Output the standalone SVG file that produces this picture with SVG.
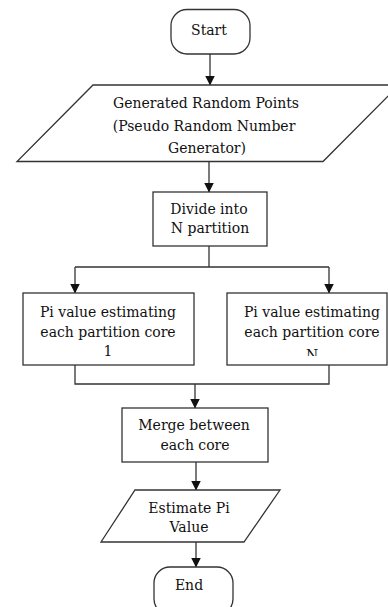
<svg xmlns="http://www.w3.org/2000/svg" width="388" height="607" viewBox="0 0 388 607">
<style>
.shape{fill:#fff;stroke:#333;stroke-width:1.3}
.line{fill:none;stroke:#333;stroke-width:1.3}
text{font-family:"DejaVu Serif","Liberation Serif",serif;font-size:14px;fill:#111;text-anchor:middle;dominant-baseline:central}
</style>
<defs>
<marker id="ah" markerWidth="10" markerHeight="11" refX="9.5" refY="5" orient="auto" markerUnits="userSpaceOnUse">
<path d="M0,0 L10,5 L0,10 Z" fill="#111"/>
</marker>
<clipPath id="cl"><rect x="23" y="293" width="171" height="63"/></clipPath>
<clipPath id="cr"><rect x="227" y="293" width="160" height="63"/></clipPath>
</defs>
<rect width="388" height="607" fill="#fff"/>
<g id="connectors">
<path class="line" d="M210,54 V85" marker-end="url(#ah)"/>
<path class="line" d="M209,162 V192" marker-end="url(#ah)"/>
<path class="line" d="M209,246 V267 M75,267 H329"/>
<path class="line" d="M75,267 V293" marker-end="url(#ah)"/>
<path class="line" d="M329,267 V293" marker-end="url(#ah)"/>
<path class="line" d="M75,365 V384 H329 V365"/>
<path class="line" d="M195,384 V408" marker-end="url(#ah)"/>
<path class="line" d="M196,462 V490" marker-end="url(#ah)"/>
<path class="line" d="M196,542 V567" marker-end="url(#ah)"/>
</g>
<g id="start">
<rect class="shape" x="171" y="9.5" width="79" height="44.5" rx="16"/>
<text x="209" y="30">Start</text>
</g>
<g id="generate">
<polygon class="shape" points="93,85 399,85 323,161.5 17,161.5"/>
<text x="206" y="103">Generated Random Points</text>
<text x="204" y="126">(Pseudo Random Number</text>
<text x="207" y="148">Generator)</text>
</g>
<g id="divide">
<rect class="shape" x="153" y="192" width="114" height="54"/>
<text x="209" y="209">Divide into</text>
<text x="210" y="228">N partition</text>
</g>
<g id="core1">
<rect class="shape" x="23" y="293" width="171" height="72"/>
<text x="108" y="312">Pi value estimating</text>
<text x="108" y="332">each partition core</text>
<text x="108" y="351" clip-path="url(#cl)">1</text>
</g>
<g id="coreN">
<rect class="shape" x="227" y="293" width="160" height="72"/>
<text x="312" y="312">Pi value estimating</text>
<text x="312" y="332">each partition core</text>
<text x="312" y="355" clip-path="url(#cr)">N</text>
</g>
<g id="merge">
<rect class="shape" x="122" y="408" width="146" height="54"/>
<text x="194" y="425">Merge between</text>
<text x="195" y="445">each core</text>
</g>
<g id="estimate">
<polygon class="shape" points="135,490 280,490 244,542 101,542"/>
<text x="189" y="508">Estimate Pi</text>
<text x="189" y="527">Value</text>
</g>
<g id="end">
<rect class="shape" x="154" y="567" width="79" height="48" rx="16"/>
<text x="189" y="585">End</text>
</g>
</svg>
